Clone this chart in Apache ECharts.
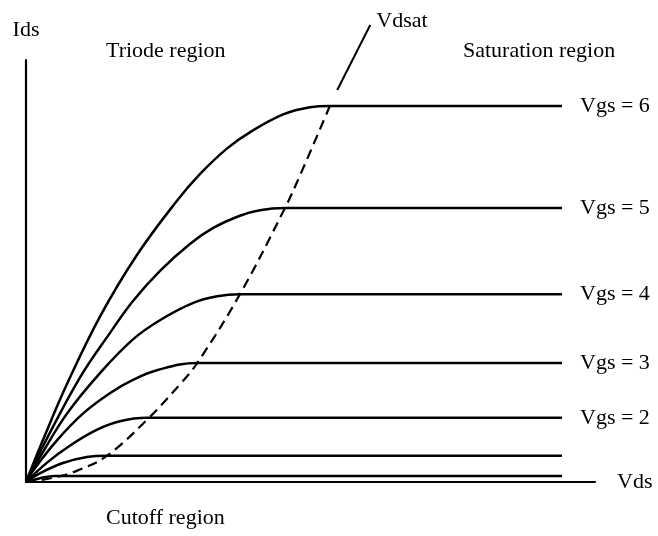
<!DOCTYPE html>
<html>
<head>
<meta charset="utf-8">
<script src="https://cdn.jsdelivr.net/npm/echarts@6/dist/echarts.min.js"></script>
<style>
html,body{margin:0;padding:0;background:#fff;}
#chart{width:658px;height:536px;}
</style>
</head>
<body>
<div id="chart"></div>
<script>
// Vds / Ids (arbitrary units, axes 0..10)
const vdsVgs6 = [0, 0.30, 0.72, 1.30, 1.95, 2.65, 3.06, 3.53, 3.94, 4.52, 4.99, 5.34, 9.42];
const idsVgs6 = [0, 1.00, 2.32, 3.92, 5.38, 6.66, 7.30, 7.90, 8.29, 8.71, 8.88, 8.91, 8.91];
const vdsVgs5 = [0, 0.33, 0.95, 1.48, 1.88, 2.36, 2.88, 3.29, 3.76, 4.11, 4.55, 9.42];
const idsVgs5 = [0, 0.93, 2.48, 3.54, 4.29, 5.01, 5.64, 6.02, 6.31, 6.44, 6.49, 6.49];
const vdsVgs4 = [0, 0.25, 0.72, 1.30, 1.88, 2.36, 2.93, 3.36, 3.76, 9.42];
const idsVgs4 = [0, 0.60, 1.62, 2.58, 3.38, 3.84, 4.24, 4.40, 4.45, 4.45];
const vdsVgs3 = [0, 0.12, 0.54, 1.00, 1.48, 1.88, 2.30, 3.01, 9.42];
const idsVgs3 = [0, 0.26, 0.98, 1.62, 2.11, 2.42, 2.65, 2.82, 2.82];
const vdsVgs2 = [0, 0.37, 0.77, 1.25, 1.65, 2.13, 9.42];
const idsVgs2 = [0, 0.46, 0.86, 1.24, 1.44, 1.52, 1.52];
const vdsVgs1 = [0, 0.25, 0.65, 1.07, 1.42, 9.42];
const idsVgs1 = [0, 0.21, 0.45, 0.59, 0.62, 0.62];
const vdsVgs0 = [0, 0.25, 0.51, 9.42];
const idsVgs0 = [0, 0.09, 0.14, 0.14];
const vdsSat = [0, 0.47, 0.90, 1.42, 2.13, 2.71, 3.01, 3.76, 4.55, 4.82, 5.34];
const idsSat = [0, 0.10, 0.27, 0.62, 1.48, 2.32, 2.82, 4.45, 6.49, 7.28, 8.91];
const vdsLeader = [5.47, 6.05];
const idsLeader = [9.29, 10.83];
const curveNames = ['Vgs = 6', 'Vgs = 5', 'Vgs = 4', 'Vgs = 3', 'Vgs = 2', '', ''];
const regionLabels = ['Triode region', 'Saturation region', 'Cutoff region'];

const FONT = '"Liberation Serif", "Times New Roman", serif';
const zip = (xs, ys) => xs.map((x, i) => [x, ys[i]]);

const curves = [
  zip(vdsVgs6, idsVgs6), zip(vdsVgs5, idsVgs5), zip(vdsVgs4, idsVgs4),
  zip(vdsVgs3, idsVgs3), zip(vdsVgs2, idsVgs2), zip(vdsVgs1, idsVgs1),
  zip(vdsVgs0, idsVgs0)
];

const series = curves.map((d, i) => ({
  type: 'line', data: d, smooth: 0.4, showSymbol: false, silent: true,
  lineStyle: { color: '#000', width: 2.5 },
  endLabel: curveNames[i] ? {
    show: true, formatter: curveNames[i], distance: 18,
    fontFamily: FONT, fontSize: 22, color: '#000'
  } : { show: false }
}));

series.push({
  type: 'line', data: zip(vdsSat, idsSat), smooth: 0.4, showSymbol: false, silent: true,
  lineStyle: { color: '#000', width: 2.2, type: [10, 6] }
});
series.push({
  type: 'line', data: zip(vdsLeader, idsLeader), showSymbol: false, silent: true, clip: false,
  lineStyle: { color: '#000', width: 2 },
  endLabel: { show: true, formatter: 'Vdsat', distance: 6, offset: [0, -4],
    fontFamily: FONT, fontSize: 22, color: '#000' }
});

const chart = echarts.init(document.getElementById('chart'), null, { renderer: 'canvas' });
chart.setOption({
  backgroundColor: '#fff',
  animation: false,
  grid: { left: 26, right: 63, top: 60, bottom: 54, containLabel: false },
  xAxis: {
    type: 'value', min: 0, max: 10,
    name: 'Vds', nameLocation: 'end', nameGap: 22,
    nameTextStyle: { fontFamily: FONT, fontSize: 22, color: '#000', padding: [6, 0, 0, 0] },
    axisLine: { show: true, lineStyle: { color: '#000', width: 2.2 } },
    axisTick: { show: false }, axisLabel: { show: false }, splitLine: { show: false }
  },
  yAxis: {
    type: 'value', min: 0, max: 10,
    name: 'Ids', nameLocation: 'end', nameGap: 19,
    nameTextStyle: { fontFamily: FONT, fontSize: 22, color: '#000' },
    axisLine: { show: true, lineStyle: { color: '#000', width: 2.2 } },
    axisTick: { show: false }, axisLabel: { show: false }, splitLine: { show: false }
  },
  graphic: [
    { type: 'text', x: 106, y: 51, silent: true,
      style: { text: regionLabels[0], font: '22px ' + FONT, fill: '#000', align: 'left', verticalAlign: 'middle' } },
    { type: 'text', x: 463, y: 51, silent: true,
      style: { text: regionLabels[1], font: '22px ' + FONT, fill: '#000', align: 'left', verticalAlign: 'middle' } },
    { type: 'text', x: 106, y: 518, silent: true,
      style: { text: regionLabels[2], font: '22px ' + FONT, fill: '#000', align: 'left', verticalAlign: 'middle' } }
  ],
  series: series
});
</script>
</body>
</html>
